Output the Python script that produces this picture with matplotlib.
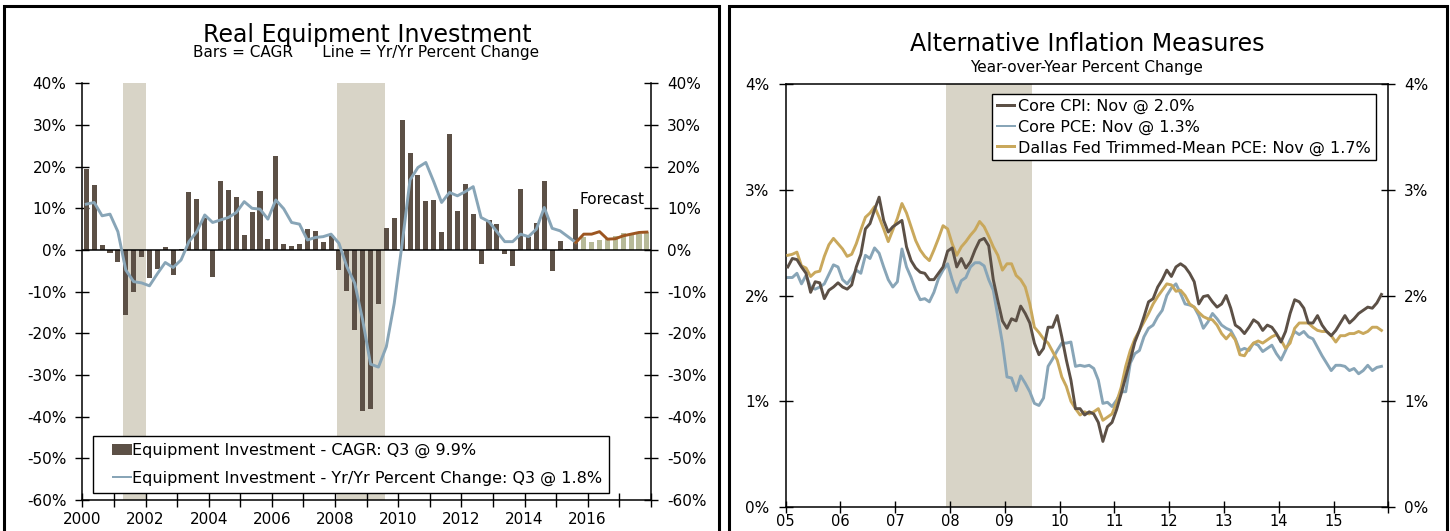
import matplotlib
matplotlib.use("Agg")
import matplotlib.pyplot as plt
import numpy as np
from matplotlib.patches import Patch, Rectangle
from matplotlib.legend_handler import HandlerPatch

plt.rcParams["font.family"] = ["DejaVu Sans"]

# ---------------- Real equipment investment (quarterly, 2000Q1 onward) ----------------
cagr_actual = [19.4, 15.6, 1.3, -0.8, -3.0, -15.6, -10.0, -1.6, -6.7, -4.6, 0.8, -6.1,
               0.2, 14.0, 12.2, 7.7, -6.4, 16.6, 14.5, 12.7, 3.5, 9.0, 14.2, 2.6,
               22.6, 1.4, 1.0, 1.4, 5.0, 4.6, 2.0, 3.6, -4.8, -9.8, -19.2, -38.6,
               -38.2, -13.0, 5.2, 7.7, 31.2, 23.3, 18.0, 11.8, 12.0, 4.2, 27.8, 9.4,
               15.9, 8.7, -3.4, 7.1, 6.2, -1.0, -3.8, 14.7, 3.0, 6.5, 16.5, -5.0,
               2.2, 0.3, 9.9]
cagr_forecast = [3.2, 2.0, 2.4, 2.8, 3.4, 4.0, 3.8, 3.8, 4.3]
yoy_actual = [11.0, 11.4, 8.2, 8.6, 4.4, -4.8, -7.6, -7.9, -8.6, -5.7, -3.0, -4.2,
              -2.4, 2.0, 4.4, 8.4, 6.6, 7.2, 7.8, 9.0, 11.6, 10.0, 9.8, 7.4,
              12.0, 9.9, 6.6, 6.2, 2.4, 3.0, 3.2, 3.8, 1.6, -4.0, -8.0, -16.8,
              -27.4, -28.1, -23.2, -12.8, 1.5, 16.8, 19.8, 21.0, 16.4, 11.4, 13.8, 13.0,
              14.0, 15.2, 7.8, 6.8, 4.4, 2.0, 2.0, 3.8, 3.2, 5.0, 10.2, 5.2,
              4.6, 3.2, 1.8]
yoy_forecast = [1.8, 3.8, 3.8, 4.4, 2.6, 2.7, 3.4, 3.8, 4.2, 4.3]
left_recessions = [(2001.28, 2002.03), (2008.07, 2009.57)]
left_yticks = list(range(-60, 41, 10))
left_xticks = list(range(2000, 2019))
left_xlabels = [str(y) if y % 2 == 0 and y <= 2016 else "" for y in left_xticks]
left_legend = ["Equipment Investment - CAGR: Q3 @ 9.9%",
               "Equipment Investment - Yr/Yr Percent Change: Q3 @ 1.8%"]

# ---------------- Alternative inflation measures (monthly, Jan 2005 - Nov 2015) ----------------
core_cpi = [2.27, 2.35, 2.34, 2.27, 2.21, 2.03, 2.13, 2.12, 1.97, 2.05, 2.08, 2.12,
            2.08, 2.06, 2.10, 2.27, 2.39, 2.63, 2.68, 2.81, 2.93, 2.71, 2.60, 2.65,
            2.68, 2.71, 2.46, 2.33, 2.26, 2.22, 2.21, 2.15, 2.15, 2.21, 2.27, 2.42,
            2.45, 2.27, 2.35, 2.26, 2.32, 2.43, 2.52, 2.54, 2.47, 2.15, 1.95, 1.76,
            1.69, 1.78, 1.76, 1.90, 1.83, 1.74, 1.55, 1.44, 1.50, 1.70, 1.70, 1.81,
            1.61, 1.39, 1.20, 0.93, 0.93, 0.87, 0.90, 0.88, 0.80, 0.62, 0.76, 0.80,
            0.92, 1.07, 1.23, 1.39, 1.56, 1.67, 1.80, 1.94, 1.97, 2.08, 2.15, 2.24,
            2.18, 2.27, 2.30, 2.27, 2.21, 2.13, 1.92, 1.99, 2.00, 1.94, 1.89, 1.92,
            2.00, 1.88, 1.72, 1.69, 1.64, 1.70, 1.77, 1.74, 1.67, 1.72, 1.70, 1.64,
            1.56, 1.66, 1.83, 1.96, 1.94, 1.88, 1.74, 1.74, 1.81, 1.72, 1.66, 1.62,
            1.67, 1.74, 1.81, 1.74, 1.78, 1.83, 1.86, 1.89, 1.88, 1.93, 2.01]
core_pce = [2.17, 2.17, 2.21, 2.11, 2.19, 2.08, 2.06, 2.08, 2.11, 2.20, 2.29, 2.27,
            2.15, 2.11, 2.17, 2.24, 2.21, 2.38, 2.35, 2.45, 2.40, 2.27, 2.15, 2.08,
            2.13, 2.44, 2.27, 2.17, 2.05, 1.96, 1.97, 1.94, 2.03, 2.16, 2.24, 2.30,
            2.15, 2.03, 2.14, 2.17, 2.27, 2.31, 2.31, 2.28, 2.15, 2.05, 1.80, 1.55,
            1.23, 1.22, 1.10, 1.24, 1.17, 1.09, 0.98, 0.96, 1.03, 1.33, 1.40, 1.48,
            1.55, 1.55, 1.56, 1.33, 1.34, 1.33, 1.34, 1.31, 1.20, 0.98, 0.99, 0.95,
            1.01, 1.09, 1.09, 1.36, 1.45, 1.48, 1.61, 1.69, 1.72, 1.80, 1.86, 2.00,
            2.07, 2.11, 2.02, 1.92, 1.91, 1.89, 1.81, 1.69, 1.75, 1.83, 1.78, 1.72,
            1.69, 1.67, 1.59, 1.48, 1.50, 1.48, 1.55, 1.53, 1.47, 1.50, 1.53, 1.45,
            1.39, 1.48, 1.58, 1.66, 1.63, 1.66, 1.61, 1.59, 1.51, 1.43, 1.36, 1.29,
            1.34, 1.34, 1.33, 1.29, 1.31, 1.26, 1.29, 1.34, 1.29, 1.32, 1.33]
trimmed_mean = [2.38, 2.39, 2.41, 2.28, 2.26, 2.18, 2.22, 2.23, 2.37, 2.48, 2.54, 2.49,
                2.44, 2.37, 2.39, 2.49, 2.62, 2.74, 2.78, 2.84, 2.74, 2.63, 2.51, 2.62,
                2.73, 2.87, 2.78, 2.65, 2.52, 2.43, 2.37, 2.33, 2.43, 2.54, 2.66, 2.63,
                2.49, 2.38, 2.46, 2.51, 2.57, 2.62, 2.70, 2.65, 2.56, 2.46, 2.38, 2.24,
                2.30, 2.30, 2.19, 2.15, 2.08, 1.92, 1.70, 1.65, 1.59, 1.55, 1.47, 1.39,
                1.23, 1.14, 1.00, 0.93, 0.87, 0.90, 0.88, 0.90, 0.93, 0.82, 0.85, 0.88,
                0.99, 1.13, 1.33, 1.48, 1.59, 1.67, 1.75, 1.83, 1.92, 1.99, 2.05, 2.11,
                2.10, 2.04, 2.05, 2.00, 1.92, 1.89, 1.84, 1.80, 1.78, 1.77, 1.72, 1.64,
                1.59, 1.64, 1.58, 1.44, 1.43, 1.50, 1.55, 1.57, 1.55, 1.58, 1.61, 1.63,
                1.58, 1.50, 1.55, 1.69, 1.74, 1.74, 1.74, 1.70, 1.67, 1.66, 1.66, 1.62,
                1.56, 1.62, 1.62, 1.64, 1.64, 1.66, 1.64, 1.66, 1.70, 1.70, 1.67]
right_recession = (2007.92, 2009.50)
right_yticks = [0, 1, 2, 3, 4]
right_xticks = list(range(2005, 2017))
right_xlabels = ["%02d" % (y % 100) if y < 2016 else "" for y in right_xticks]
right_legend = ["Core CPI: Nov @ 2.0%", "Core PCE: Nov @ 1.3%",
                "Dallas Fed Trimmed-Mean PCE: Nov @ 1.7%"]

# ---------------- styling ----------------
BROWN = "#5c5046"
SAGE = "#b7ba98"
STEEL = "#88a5b7"
RUST = "#9c5520"
GOLD = "#c9a85c"
SHADE = "#d8d4c7"
W, H = 1450, 531
FS = 11
LFS = 11.5
LW = 2.1


def fx(px):
    return px / W


def fy(py):
    return 1 - py / H


def pct(v):
    return "%d%%" % v


def swatch_handler(frac_w, frac_h):
    """Legend key drawn as a block in the right part of the handle box."""
    def make(legend, orig_handle, xdescent, ydescent, width, height, fontsize):
        w = width * frac_w
        h = height * frac_h
        return Rectangle((-xdescent + width - w, -ydescent + (height - h) / 2), w, h)
    return HandlerPatch(patch_func=make)


fig = plt.figure(figsize=(W / 100, H / 100), dpi=100)

# panel frames running off the bottom of the page
for x0, x1 in [(4, 719), (729, 1447)]:
    fig.add_artist(Rectangle((fx(x0), -0.05), fx(x1 - x0), fy(6) + 0.05,
                             transform=fig.transFigure, fill=False,
                             edgecolor="black", lw=2.2, clip_on=False))

# ---------------- left panel ----------------
axL = fig.add_axes([fx(82.35), fy(500), fx(568.5), 416.7 / H])
q_act = 2000 + (np.arange(len(cagr_actual)) + 0.5) / 4
q_fc = 2000 + (np.arange(len(cagr_actual), len(cagr_actual) + len(cagr_forecast)) + 0.5) / 4
for a, b in left_recessions:
    axL.axvspan(a, b, color=SHADE, lw=0, zorder=0)
axL.bar(q_act, cagr_actual, width=0.16, color=BROWN, zorder=2)
axL.bar(q_fc, cagr_forecast, width=0.16, color=SAGE, zorder=2)
axL.axhline(0, color="black", lw=1.1, zorder=3)
axL.plot(q_act, yoy_actual, color=STEEL, lw=LW, zorder=4, solid_joinstyle="round")
axL.plot(np.concatenate([q_act[-1:], q_fc]), yoy_forecast, color=RUST, lw=LW, zorder=4)
axL.text(2015.74, 11.0, "Forecast", fontsize=FS, va="baseline", ha="left")

axL.set_xlim(2000, 2018)
axL.set_ylim(-60, 40)
axL.set_yticks(left_yticks)
axL.set_yticklabels([pct(v) for v in left_yticks])
axL.set_xticks(left_xticks)
axL.set_xticklabels(left_xlabels)
axL.yaxis.set_ticks_position("both")
axL.tick_params(axis="y", which="both", direction="inout", length=10, width=1,
                labelsize=FS, labelright=True, pad=6.5)
axL.tick_params(axis="x", direction="inout", length=10, width=1, labelsize=FS, pad=4)
axL.spines["top"].set_visible(False)
for s in ("left", "right", "bottom"):
    axL.spines[s].set_linewidth(1.1)

bar_key = Patch(facecolor=BROWN, edgecolor="none")
line_key = Patch(facecolor=STEEL, edgecolor="none")
legL = axL.legend([bar_key, line_key], left_legend,
                  handler_map={bar_key: swatch_handler(0.62, 1.0),
                               line_key: swatch_handler(0.62, 0.2)},
                  loc="upper left", bbox_to_anchor=(0.018, 0.1536), fontsize=LFS,
                  frameon=True, fancybox=False, edgecolor="black", framealpha=1,
                  handlelength=2.0, handleheight=0.7, handletextpad=0.0,
                  borderpad=0.45, labelspacing=0.75, borderaxespad=0)
legL.get_frame().set_linewidth(1.0)

fig.text(fx(367), fy(42.3), "Real Equipment Investment", ha="center", va="baseline",
         fontsize=17)
fig.text(fx(366), fy(56.7), "Bars = CAGR      Line = Yr/Yr Percent Change",
         ha="center", va="baseline", fontsize=FS)

# ---------------- right panel ----------------
axR = fig.add_axes([fx(785.5), fy(507), fx(602.8), 423 / H])
months = 2005 + (np.arange(len(core_cpi)) + 0.5) / 12
axR.axvspan(*right_recession, color=SHADE, lw=0, zorder=0)
axR.plot(months, core_pce, color=STEEL, lw=LW, zorder=2)
axR.plot(months, trimmed_mean, color=GOLD, lw=LW, zorder=3)
axR.plot(months, core_cpi, color=BROWN, lw=LW, zorder=4)

axR.set_xlim(2005, 2016)
axR.set_ylim(0, 4)
axR.set_yticks(right_yticks)
axR.set_yticklabels([pct(v) for v in right_yticks])
axR.set_xticks(right_xticks)
axR.set_xticklabels(right_xlabels)
axR.yaxis.set_ticks_position("both")
axR.tick_params(axis="y", direction="inout", length=10, width=1, labelsize=FS,
                labelright=True, pad=6.5)
axR.tick_params(axis="x", direction="inout", length=8, width=1, labelsize=10.5, pad=1)
for s in axR.spines.values():
    s.set_linewidth(1.1)

cpi_key = Patch(facecolor=BROWN, edgecolor="none")
pce_key = Patch(facecolor=STEEL, edgecolor="none")
tm_key = Patch(facecolor=GOLD, edgecolor="none")
legR = axR.legend([cpi_key, pce_key, tm_key], right_legend,
                  handler_map={k: swatch_handler(1.0, 0.24) for k in (cpi_key, pce_key, tm_key)},
                  loc="upper left", bbox_to_anchor=(0.342, 0.9764), fontsize=LFS,
                  frameon=True, fancybox=False, edgecolor="black", framealpha=1,
                  handlelength=1.25, handleheight=0.7, handletextpad=0.1,
                  borderpad=0.3, labelspacing=0.35, borderaxespad=0)
legR.get_frame().set_linewidth(1.0)

fig.text(fx(1087), fy(51), "Alternative Inflation Measures", ha="center",
         va="baseline", fontsize=17)
fig.text(fx(1087), fy(72), "Year-over-Year Percent Change", ha="center",
         va="baseline", fontsize=FS)

fig.savefig("out.png", dpi=100, facecolor="white")
